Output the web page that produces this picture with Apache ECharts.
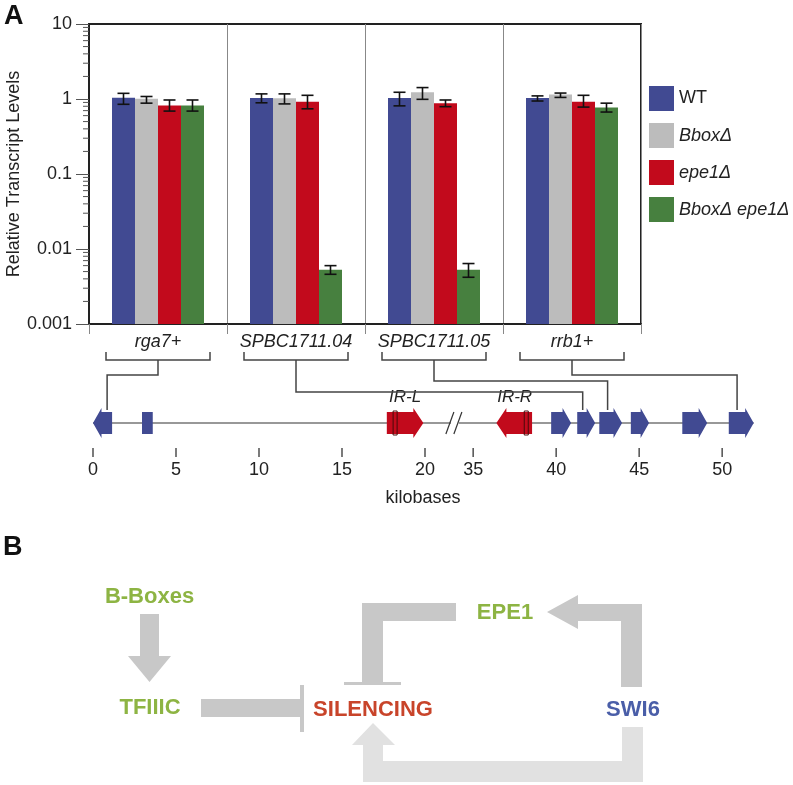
<!DOCTYPE html>
<html><head><meta charset="utf-8">
<script src="https://cdn.jsdelivr.net/npm/echarts@6/dist/echarts.min.js"></script>
<style>html,body{margin:0;padding:0;background:#fff;}#c{width:793px;height:785px;}</style>
</head><body><div id="c"></div>
<script>
// ---------- data ----------
const categories = ['rga7+', 'SPBC1711.04', 'SPBC1711.05', 'rrb1+'];
const strains = ['WT', 'Bbox\u0394', 'epe1\u0394', 'Bbox\u0394 epe1\u0394'];
const wtValues   = [1.04, 1.03, 1.03, 1.03];
const wtLow      = [0.85, 0.89, 0.81, 0.94];
const wtHigh     = [1.19, 1.17, 1.23, 1.10];
const bboxValues = [1.01, 1.02, 1.23, 1.15];
const bboxLow    = [0.88, 0.86, 0.99, 1.05];
const bboxHigh   = [1.08, 1.17, 1.42, 1.20];
const epe1Values = [0.82, 0.92, 0.88, 0.92];
const epe1Low    = [0.69, 0.74, 0.79, 0.78];
const epe1High   = [0.97, 1.12, 0.97, 1.12];
const dblValues  = [0.82, 0.0053, 0.0053, 0.77];
const dblLow     = [0.69, 0.0046, 0.0042, 0.67];
const dblHigh    = [0.97, 0.0060, 0.0064, 0.88];
const yTickLabels = ['0.001', '0.01', '0.1', '1', '10'];
const minorMultipliers = [2, 3, 4, 5, 6, 7, 8, 9];
const decades = [0.001, 0.01, 0.1, 1];

// gene map (kilobases)
const geneStart = [0, 2.95, 17.7, 36.4, 39.7, 41.27, 42.6, 44.5, 47.6, 50.4];
const geneEnd   = [1.15, 3.6, 19.9, 38.55, 40.9, 42.35, 43.97, 45.6, 49.1, 51.9];
const geneDir   = [-1, 0, 1, -1, 1, 1, 1, 1, 1, 1];
const geneIsIR  = [0, 0, 1, 1, 0, 0, 0, 0, 0, 0];
const irBoxKb   = [null, null, 18.2, 38.2, null, null, null, null, null, null];
const irLabels  = ['IR-L', 'IR-R'];
const irLabelKb = [18.8, 37.5];
const kbTicks   = [0, 5, 10, 15, 20, 35, 40, 45, 50];
const linkGeneKb = [0.85, 41.6, 43.1, 50.9];   // gene each category is linked to
const BREAK_FROM = 20, BREAK_TO = 35, BREAK_GAP = 2.9;

// ---------- styles ----------
const FONT = "'Liberation Sans', Arial, Helvetica, sans-serif";
const COLORS = ['#414a92', '#bcbcbc', '#c20a1c', '#47803f'];
const Y_MIN = 0.001, Y_MAX = 10;

function disp(kb) { return kb < 27 ? kb : kb - (BREAK_TO - BREAK_FROM) + BREAK_GAP; }

const seriesData = [
  [wtValues, wtLow, wtHigh], [bboxValues, bboxLow, bboxHigh],
  [epe1Values, epe1Low, epe1High], [dblValues, dblLow, dblHigh]
];

function barRender(si) {
  return function (params, api) {
    const ci = api.value(0);
    const v = api.value(1), lo = api.value(2), hi = api.value(3);
    const bw = api.size([1, 1])[0] / 6;
    const top = api.coord([ci, v]);
    const base = api.coord([ci, Y_MIN]);
    const x = top[0] + (si - 2) * bw;
    const cx = x + bw / 2;
    const yLo = api.coord([ci, lo])[1], yHi = api.coord([ci, hi])[1];
    const cap = 6;
    const ls = { stroke: '#111', lineWidth: 1.6 };
    return { type: 'group', children: [
      { type: 'rect', shape: { x: x, y: top[1], width: bw, height: base[1] - top[1] }, style: { fill: api.visual('color') } },
      { type: 'line', shape: { x1: cx, y1: yLo, x2: cx, y2: yHi }, style: ls },
      { type: 'line', shape: { x1: cx - cap, y1: yLo, x2: cx + cap, y2: yLo }, style: ls },
      { type: 'line', shape: { x1: cx - cap, y1: yHi, x2: cx + cap, y2: yHi }, style: ls }
    ]};
  };
}

const barSeries = strains.map((name, si) => ({
  name: name, type: 'custom', xAxisIndex: 0, yAxisIndex: 0,
  itemStyle: { color: COLORS[si] },
  renderItem: barRender(si),
  encode: { x: 0, y: 1 },
  data: categories.map((c, ci) => [ci, seriesData[si][0][ci], seriesData[si][1][ci], seriesData[si][2][ci]]),
  z: 3
}));

const minorValues = [];
decades.forEach(d => minorMultipliers.forEach(m => minorValues.push(d * m)));

const minorTickSeries = {
  type: 'custom', xAxisIndex: 0, yAxisIndex: 0, silent: true, clip: false,
  renderItem: function (params, api) {
    const y = api.coord([0, api.value(1)])[1];
    const x0 = params.coordSys.x;
    return { type: 'line', shape: { x1: x0 - 6, y1: y, x2: x0, y2: y }, style: { stroke: '#555', lineWidth: 1 } };
  },
  encode: { x: 0, y: 1 },
  data: minorValues.map(v => [0, v]), z: 4
};

const geneSeries = {
  type: 'custom', xAxisIndex: 1, yAxisIndex: 1, silent: true, clip: false, z: 5,
  renderItem: function (params, api) {
    const i = params.dataIndex;
    const xs = api.coord([api.value(0), 0])[0];
    const xe = api.coord([api.value(1), 0])[0];
    const cy = api.coord([0, 0])[1];
    const dir = api.value(2);
    const ir = geneIsIR[i];
    const fill = ir ? '#c20a1c' : '#414a92';
    const hb = 11, hh = 15, hl = ir ? 10 : 8.5;
    let pts;
    if (dir === 1) {
      const xh = xe - hl;
      pts = [[xs, cy - hb], [xh, cy - hb], [xh, cy - hh], [xe, cy], [xh, cy + hh], [xh, cy + hb], [xs, cy + hb]];
    } else if (dir === -1) {
      const xh = xs + hl;
      pts = [[xe, cy - hb], [xh, cy - hb], [xh, cy - hh], [xs, cy], [xh, cy + hh], [xh, cy + hb], [xe, cy + hb]];
    } else {
      pts = [[xs, cy - hb], [xe, cy - hb], [xe, cy + hb], [xs, cy + hb]];
    }
    const children = [{ type: 'polygon', shape: { points: pts }, style: { fill: fill } }];
    if (irBoxKb[i] != null) {
      const bx = api.coord([disp(irBoxKb[i]), 0])[0];
      children.push({ type: 'rect', shape: { x: bx - 2, y: cy - 12, width: 4, height: 24 }, style: { fill: 'rgba(0,0,0,0)', stroke: '#4a0a0a', lineWidth: 1 } });
    }
    return { type: 'group', children: children };
  },
  encode: { x: [0, 1], y: 3 },
  data: geneStart.map((s, i) => [disp(s), disp(geneEnd[i]), geneDir[i], 0])
};

const backboneSeries = {
  type: 'custom', xAxisIndex: 1, yAxisIndex: 1, silent: true, clip: false, z: 4,
  renderItem: function (params, api) {
    const cy = api.coord([0, 0])[1];
    const x0 = api.coord([api.value(0), 0])[0];
    const x1 = api.coord([api.value(1), 0])[0];
    const bc = api.coord([api.value(2), 0])[0];
    const ls = { stroke: '#333', lineWidth: 1.2 };
    return { type: 'group', children: [
      { type: 'line', shape: { x1: x0, y1: cy, x2: bc - 4, y2: cy }, style: ls },
      { type: 'line', shape: { x1: bc + 4, y1: cy, x2: x1, y2: cy }, style: ls },
      { type: 'line', shape: { x1: bc - 9, y1: cy + 11, x2: bc - 1, y2: cy - 11 }, style: ls },
      { type: 'line', shape: { x1: bc - 1, y1: cy + 11, x2: bc + 7, y2: cy - 11 }, style: ls }
    ]};
  },
  encode: { x: [0, 1], y: 3 },
  data: [[disp(geneStart[0]), disp(geneEnd[geneEnd.length - 1]), 21.8, 0]]
};

const kbTickSeries = {
  type: 'custom', xAxisIndex: 1, yAxisIndex: 1, silent: true, clip: false, z: 4,
  renderItem: function (params, api) {
    const p = api.coord([api.value(0), 0]);
    return { type: 'group', children: [
      { type: 'line', shape: { x1: p[0], y1: p[1] + 25, x2: p[0], y2: p[1] + 34 }, style: { stroke: '#333', lineWidth: 1.3 } },
      { type: 'text', style: { x: p[0], y: p[1] + 47, text: String(kbTicks[params.dataIndex]), fill: '#222', font: '18px ' + FONT, textAlign: 'center', textVerticalAlign: 'middle' } }
    ]};
  },
  encode: { x: 0, y: 1 },
  data: kbTicks.map(k => [disp(k), 0])
};

const irLabelSeries = {
  type: 'custom', xAxisIndex: 1, yAxisIndex: 1, silent: true, clip: false, z: 4,
  renderItem: function (params, api) {
    const p = api.coord([api.value(0), 0]);
    return { type: 'text', style: { x: p[0], y: p[1] - 26, text: irLabels[params.dataIndex], fill: '#222', font: 'italic 17px ' + FONT, textAlign: 'center', textVerticalAlign: 'middle' } };
  },
  encode: { x: 0, y: 1 },
  data: irLabelKb.map(k => [disp(k), 0])
};

const option = {
  animation: false,
  backgroundColor: '#fff',
  textStyle: { fontFamily: FONT },
  legend: {
    orient: 'vertical', left: 649, top: 86, padding: 0, itemWidth: 25, itemHeight: 25, itemGap: 12,
    icon: 'rect', data: strains,
    textStyle: { fontSize: 18, color: '#222', fontFamily: FONT,
      rich: { i: { fontStyle: 'italic', fontSize: 18, fontFamily: FONT, color: '#222' } } },
    formatter: n => n === 'WT' ? n : '{i|' + n + '}'
  },
  grid: [
    { left: 89, top: 24, width: 552, height: 300, show: true, borderColor: '#222', borderWidth: 2, backgroundColor: 'rgba(0,0,0,0)', containLabel: false, outerBoundsMode: 'none' },
    { left: 93, top: 408, width: 664, height: 30, containLabel: false, outerBoundsMode: 'none' }
  ],
  xAxis: [
    { gridIndex: 0, type: 'category', data: categories, boundaryGap: true,
      axisLine: { lineStyle: { color: '#222', width: 2 } },
      axisTick: { show: true, length: 10, interval: 0, lineStyle: { color: '#888', width: 1 } },
      splitLine: { show: true, interval: 0, lineStyle: { color: '#888', width: 1 } },
      axisLabel: { interval: 0, margin: 9, fontSize: 18, fontStyle: 'italic', color: '#222', fontFamily: FONT } },
    { gridIndex: 1, type: 'value', min: 0, max: 40, show: false }
  ],
  yAxis: [
    { gridIndex: 0, type: 'log', logBase: 10, min: Y_MIN, max: Y_MAX,
      name: 'Relative Transcript Levels', nameLocation: 'middle', nameGap: 66, nameRotate: 90,
      nameMoveOverlap: false,
      nameTextStyle: { fontSize: 18, color: '#222', fontFamily: FONT },
      axisLine: { show: true, lineStyle: { color: '#222', width: 2 } },
      axisTick: { show: true, length: 13, lineStyle: { color: '#555', width: 1 } },
      splitLine: { show: false },
      axisLabel: { margin: 17, fontSize: 18, color: '#222', fontFamily: FONT,
        formatter: v => yTickLabels[Math.round(Math.log10(v)) + 3] } },
    { gridIndex: 1, type: 'value', min: -1, max: 1, show: false }
  ],
  series: barSeries.concat([minorTickSeries, backboneSeries, geneSeries, kbTickSeries, irLabelSeries])
};

const chart = echarts.init(document.getElementById('c'), null, { renderer: 'canvas' });
chart.setOption(option);

// ---------- connectors (positions from the chart's own scales) ----------
const axisBottom = chart.convertToPixel({ gridIndex: 0 }, [0, Y_MIN])[1];
const geneTop = chart.convertToPixel({ gridIndex: 1 }, [0, 0])[1] - 13;
const levelOffsets = [51, 68, 57, 51];
const lineStyle = { stroke: '#444', lineWidth: 1.5, fill: null };
const graphics = [];
categories.forEach((c, i) => {
  const cx = chart.convertToPixel({ gridIndex: 0 }, [i, 1])[0];
  const gx = chart.convertToPixel({ gridIndex: 1 }, [disp(linkGeneKb[i]), 0])[0];
  const by = axisBottom + 36, ty = axisBottom + 28, ly = axisBottom + levelOffsets[i];
  graphics.push({ type: 'polyline', shape: { points: [[cx - 52, ty], [cx - 52, by], [cx + 52, by], [cx + 52, ty]] }, style: lineStyle, z: 10 });
  graphics.push({ type: 'polyline', shape: { points: [[cx, by], [cx, ly], [gx, ly], [gx, geneTop]] }, style: lineStyle, z: 10 });
});
const kbCenter = chart.convertToPixel({ gridIndex: 1 }, [disp(20), 0]);
graphics.push({ type: 'text', style: { x: kbCenter[0] - 2, y: kbCenter[1] + 75, text: 'kilobases', font: '18px ' + FONT, fill: '#222', textAlign: 'center', textVerticalAlign: 'middle' } });

// panel letters
graphics.push({ type: 'text', style: { x: 4, y: 3, text: 'A', font: 'bold 27px ' + FONT, fill: '#111' } });
graphics.push({ type: 'text', style: { x: 3, y: 534, text: 'B', font: 'bold 27px ' + FONT, fill: '#111' } });

// panel B diagram
const G = '#8db443', R = '#c8442a', BL = '#4a5ea8', GR = '#c8c8c8', LG = '#e1e1e1';
function label(t, x, y, col) {
  return { type: 'text', style: { x: x, y: y, text: t, font: 'bold 22px ' + FONT, fill: col, textAlign: 'center', textVerticalAlign: 'middle' } };
}
graphics.push(label('B-Boxes', 149.5, 597, G));
graphics.push({ type: 'polygon', shape: { points: [[140, 614], [159, 614], [159, 656], [171, 656], [149.5, 682], [128, 656], [140, 656]] }, style: { fill: GR } });
graphics.push(label('TFIIIC', 150, 708, G));
graphics.push({ type: 'rect', shape: { x: 201, y: 699, width: 100, height: 18 }, style: { fill: GR } });
graphics.push({ type: 'rect', shape: { x: 300, y: 685, width: 4, height: 47 }, style: { fill: GR } });
graphics.push(label('SILENCING', 373, 710, R));
graphics.push({ type: 'polygon', shape: { points: [[362, 603], [456, 603], [456, 621], [383, 621], [383, 683], [362, 683]] }, style: { fill: GR } });
graphics.push({ type: 'rect', shape: { x: 344, y: 682, width: 57, height: 3 }, style: { fill: GR } });
graphics.push(label('EPE1', 505, 613, G));
graphics.push({ type: 'polygon', shape: { points: [[642, 604], [642, 687], [621, 687], [621, 621], [578, 621], [578, 629], [547, 612], [578, 595], [578, 604]] }, style: { fill: GR } });
graphics.push(label('SWI6', 633, 710, BL));
graphics.push({ type: 'polygon', shape: { points: [[622, 727], [643, 727], [643, 782], [363, 782], [363, 745], [352, 745], [373, 723], [395, 745], [383, 745], [383, 761], [622, 761]] }, style: { fill: LG } });

chart.setOption({ graphic: graphics });
</script></body></html>
